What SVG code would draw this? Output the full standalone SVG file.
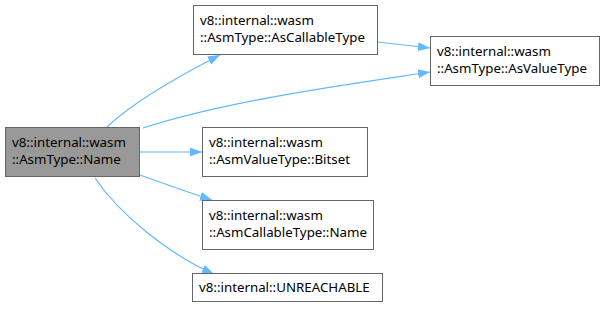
<svg xmlns="http://www.w3.org/2000/svg" width="609" height="309" viewBox="0 0 609 309">
  <style>
    .box { fill: #ffffff; stroke: #666666; stroke-width: 1; }
    .box.root { fill: #999999; }
    text { font-family: "Noto Sans", "Open Sans", "DejaVu Sans", sans-serif; font-size: 13.3px; fill: #000000; }
    .edge { fill: none; stroke: #63b8ff; stroke-width: 1.2; }
  </style>
  <defs>
    <marker id="arrow" viewBox="0 0 12 10" refX="12" refY="5" markerWidth="12" markerHeight="10" markerUnits="userSpaceOnUse" orient="auto">
      <path d="M0,0.5 L12,5 L0,9.5 Z" fill="#63b8ff"/>
    </marker>
  </defs>

  <g id="connectors">
    <path class="edge" marker-end="url(#arrow)" d="M107,127 C130,105 175,78 220,55"/>
    <path class="edge" marker-end="url(#arrow)" d="M378,42 C395,44 412,46 430,48"/>
    <path class="edge" marker-end="url(#arrow)" d="M143,128 C230,100 350,84 430,72"/>
    <path class="edge" marker-end="url(#arrow)" d="M140,152 L202,152"/>
    <path class="edge" marker-end="url(#arrow)" d="M140,175 C165,184 190,193 212,200"/>
    <path class="edge" marker-end="url(#arrow)" d="M95,178 C120,215 170,255 214,274"/>
  </g>

  <g id="node-name">
    <rect class="box root" x="5.5" y="127.5" width="134" height="49"/>
    <text x="12" y="147">v8::internal::wasm</text>
    <text x="12" y="164">::AsmType::Name</text>
  </g>

  <g id="node-ascallabletype">
    <rect class="box" x="193.5" y="5.5" width="184" height="49"/>
    <text x="200" y="25">v8::internal::wasm</text>
    <text x="200" y="42">::AsmType::AsCallableType</text>
  </g>

  <g id="node-asvaluetype">
    <rect class="box" x="430.5" y="36.5" width="169" height="49"/>
    <text x="437" y="56">v8::internal::wasm</text>
    <text x="437" y="73">::AsmType::AsValueType</text>
  </g>

  <g id="node-bitset">
    <rect class="box" x="202.5" y="127.5" width="165" height="49"/>
    <text x="209" y="147">v8::internal::wasm</text>
    <text x="209" y="164">::AsmValueType::Bitset</text>
  </g>

  <g id="node-callable-name">
    <rect class="box" x="202.5" y="200.5" width="171" height="49"/>
    <text x="209" y="220">v8::internal::wasm</text>
    <text x="209" y="237">::AsmCallableType::Name</text>
  </g>

  <g id="node-unreachable">
    <rect class="box" x="192.5" y="273.5" width="190" height="28"/>
    <text x="199" y="292">v8::internal::UNREACHABLE</text>
  </g>
</svg>
